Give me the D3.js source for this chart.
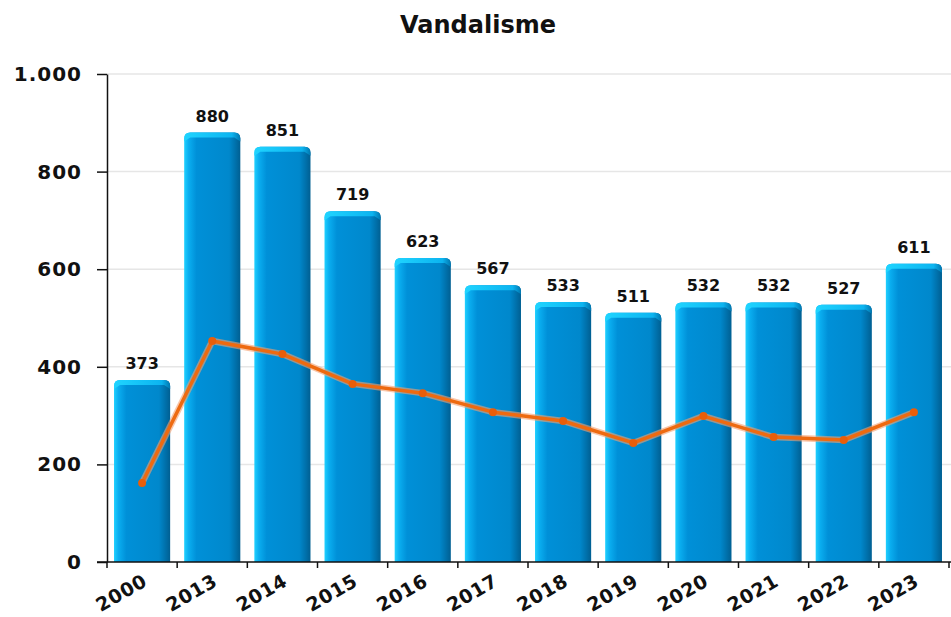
<!DOCTYPE html>
<html>
<head>
<meta charset="utf-8">
<script src="https://cdn.jsdelivr.net/npm/d3@7"></script>
<style>
  body { margin: 0; background: #fff; }
  text { font-family: "DejaVu Sans", sans-serif; font-weight: bold; }
</style>
</head>
<body>
<div id="chart"></div>
<script>
// data
const years = ["2000", "2013", "2014", "2015", "2016", "2017", "2018", "2019", "2020", "2021", "2022", "2023"];
const barValues = [373, 880, 851, 719, 623, 567, 533, 511, 532, 532, 527, 611];
const lineValues = [162, 453, 426, 365, 346, 307, 289, 244, 299, 256, 250, 307];
const yTicks = [0, 200, 400, 600, 800, 1000];

const width = 951, height = 617;
const margin = { top: 74, right: 2, bottom: 55, left: 107 };

const svg = d3.select("#chart").append("svg")
    .attr("width", width)
    .attr("height", height);

const defs = svg.append("defs");
const grad = defs.append("linearGradient").attr("id", "barGrad")
    .attr("x1", "0%").attr("x2", "100%").attr("y1", "0%").attr("y2", "0%");
grad.append("stop").attr("offset", "0%").attr("stop-color", "#1fd0ff");
grad.append("stop").attr("offset", "8%").attr("stop-color", "#0aaef0");
grad.append("stop").attr("offset", "22%").attr("stop-color", "#0090d8");
grad.append("stop").attr("offset", "80%").attr("stop-color", "#0088cc");
grad.append("stop").attr("offset", "100%").attr("stop-color", "#005f92");

const capGrad = defs.append("linearGradient").attr("id", "capGrad")
    .attr("x1", "0%").attr("x2", "100%").attr("y1", "0%").attr("y2", "0%");
capGrad.append("stop").attr("offset", "0%").attr("stop-color", "#20d4ff");
capGrad.append("stop").attr("offset", "85%").attr("stop-color", "#0cb4f0");
capGrad.append("stop").attr("offset", "100%").attr("stop-color", "#0077b0");

const x = d3.scaleBand()
    .domain(years)
    .range([margin.left, width - margin.right])
    .paddingInner(0.2)
    .paddingOuter(0.1);

const y = d3.scaleLinear()
    .domain([0, 1000])
    .range([height - margin.bottom, margin.top]);

const fmt = d3.formatLocale({ decimal: ",", thousands: ".", grouping: [3], currency: ["", ""] }).format(",d");

// title
svg.append("text")
    .attr("x", 478).attr("y", 33)
    .attr("text-anchor", "middle")
    .style("font-size", "24px")
    .attr("fill", "#111")
    .text("Vandalisme");

// grid
svg.append("g")
    .selectAll("line")
    .data(yTicks.slice(1))
    .join("line")
    .attr("x1", margin.left).attr("x2", width)
    .attr("y1", d => y(d)).attr("y2", d => y(d))
    .attr("stroke", "#e6e6e6")
    .attr("stroke-width", 1.5);

// bars
const bw = x.bandwidth();
const bars = svg.append("g").selectAll("g")
    .data(years.map((yr, i) => ({ yr, v: barValues[i] })))
    .join("g");

bars.append("path")
    .attr("d", d => {
        const x0 = x(d.yr), x1 = x0 + bw, y0 = y(d.v), yb = y(0), r = 6;
        return `M${x0},${yb} L${x0},${y0 + r} Q${x0},${y0} ${x0 + r},${y0} L${x1 - r},${y0} Q${x1},${y0} ${x1},${y0 + r} L${x1},${yb} Z`;
    })
    .attr("fill", "url(#barGrad)");

bars.append("path")
    .attr("d", d => {
        const x0 = x(d.yr), x1 = x0 + bw, y0 = y(d.v), r = 6;
        return `M${x0},${y0 + 9} L${x0},${y0 + r} Q${x0},${y0} ${x0 + r},${y0} L${x1 - r},${y0} Q${x1},${y0} ${x1},${y0 + r} L${x1},${y0 + 9} L${x1 - 6},${y0 + 5} L${x0 + 6},${y0 + 5} Z`;
    })
    .attr("fill", "url(#capGrad)");

bars.append("text")
    .attr("x", d => x(d.yr) + bw / 2)
    .attr("y", d => y(d.v) - 11)
    .attr("text-anchor", "middle")
    .style("font-size", "16px")
    .attr("fill", "#111")
    .text(d => d.v);

// y axis
const yAxis = svg.append("g")
    .attr("transform", `translate(${margin.left},0)`)
    .call(d3.axisLeft(y).tickValues(yTicks).tickFormat(fmt).tickSize(10).tickSizeOuter(0).tickPadding(15));
yAxis.select(".domain").attr("stroke", "#111").attr("stroke-width", 1.5);
yAxis.selectAll(".tick line").attr("stroke", "#111").attr("stroke-width", 1.5);
yAxis.selectAll(".tick text").style("font-size", "20px").style("letter-spacing", "1px").attr("fill", "#111");

// x axis: ticks at band boundaries
const xg = svg.append("g").attr("transform", `translate(0,${y(0)})`);
xg.append("line")
    .attr("x1", margin.left - 10).attr("x2", width)
    .attr("y1", 0).attr("y2", 0)
    .attr("stroke", "#111").attr("stroke-width", 1.5);
const step = x.step();
xg.selectAll(".xt")
    .data(years.map((yr, i) => i === 0 ? margin.left : x(yr) - (step - bw) / 2).concat([x(years[years.length - 1]) + bw + (step - bw) / 2]))
    .join("line")
    .attr("x1", d => d).attr("x2", d => d)
    .attr("y1", 0).attr("y2", 6)
    .attr("stroke", "#111").attr("stroke-width", 1.5);
xg.selectAll(".xl")
    .data(years)
    .join("text")
    .attr("transform", d => `translate(${x(d) + bw / 2 + 3},${17}) rotate(-30)`)
    .attr("text-anchor", "end")
    .attr("dy", "0.35em")
    .style("font-size", "19px")
    .style("letter-spacing", "0.5px")
    .attr("fill", "#111")
    .text(d => d);

// line
const line = d3.line()
    .x((d, i) => x(years[i]) + bw / 2)
    .y(d => y(d));

svg.append("path")
    .datum(lineValues)
    .attr("d", line)
    .attr("fill", "none")
    .attr("stroke", "#f5a070")
    .attr("stroke-opacity", 0.6)
    .attr("stroke-width", 6.5)
    .attr("stroke-linejoin", "round");

svg.append("path")
    .datum(lineValues)
    .attr("d", line)
    .attr("fill", "none")
    .attr("stroke", "#ee6a10")
    .attr("stroke-width", 3.5)
    .attr("stroke-linejoin", "round");

svg.append("g").selectAll("circle")
    .data(lineValues)
    .join("circle")
    .attr("cx", (d, i) => x(years[i]) + bw / 2)
    .attr("cy", d => y(d))
    .attr("r", 4)
    .attr("fill", "#e85e0a");
</script>
</body>
</html>
